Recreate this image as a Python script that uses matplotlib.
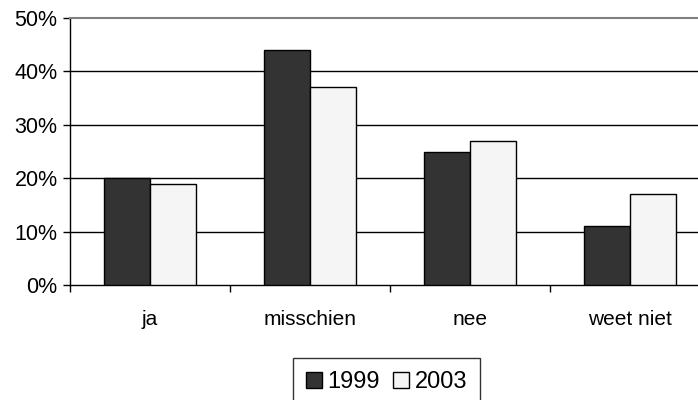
import numpy as np
import matplotlib.pyplot as plt

plt.rcParams['font.family'] = ['Liberation Sans', 'DejaVu Sans']

categories = ['ja', 'misschien', 'nee', 'weet niet']
series = ['1999', '2003']
values_1999 = [20, 44, 25, 11]
values_2003 = [19, 37, 27, 17]
yticks = [0, 10, 20, 30, 40, 50]

fig = plt.figure(figsize=(6.98, 4.0), dpi=100)
# axes reaches past the right edge, as in the original
ax = fig.add_axes([70 / 698, 1 - 285 / 400, 640 / 698, (285 - 18) / 400])

x = np.arange(len(categories))
w = 0.2875
ax.bar(x - w / 2, values_1999, w, color='#333333', edgecolor='black',
       linewidth=1, label=series[0], zorder=3)
ax.bar(x + w / 2, values_2003, w, color='#f5f5f5', edgecolor='black',
       linewidth=1, label=series[1], zorder=3)

ax.set_xlim(-0.5, len(categories) - 0.5)
ax.set_ylim(0, 50)
ax.set_yticks(yticks)
ax.set_yticklabels([f'{v}%' for v in yticks], fontsize=15.5)
for v in yticks[1:-1]:
    ax.axhline(v, color='black', linewidth=1, zorder=1)

ax.set_xticks(x)
ax.set_xticklabels(categories, fontsize=15)
ax.set_xticks(np.arange(len(categories) + 1) - 0.5, minor=True)
ax.tick_params(axis='x', which='major', length=0, pad=18)
ax.tick_params(axis='x', which='minor', length=5, width=1, direction='out')
ax.tick_params(axis='y', length=5, width=1, pad=4)

ax.spines['right'].set_visible(False)
ax.spines['top'].set_color('#808080')
ax.spines['top'].set_linewidth(1.5)
ax.spines['left'].set_linewidth(1)
ax.spines['bottom'].set_linewidth(1)

fig.legend(loc='center', bbox_to_anchor=(386.5 / 698, 1 - 382 / 400), ncol=2,
           fontsize=17, frameon=True, fancybox=False, edgecolor='black',
           handlelength=0.66, handleheight=0.66, handletextpad=0.25,
           columnspacing=0.55, borderpad=0.55)

fig.savefig('out.png', dpi=100)
